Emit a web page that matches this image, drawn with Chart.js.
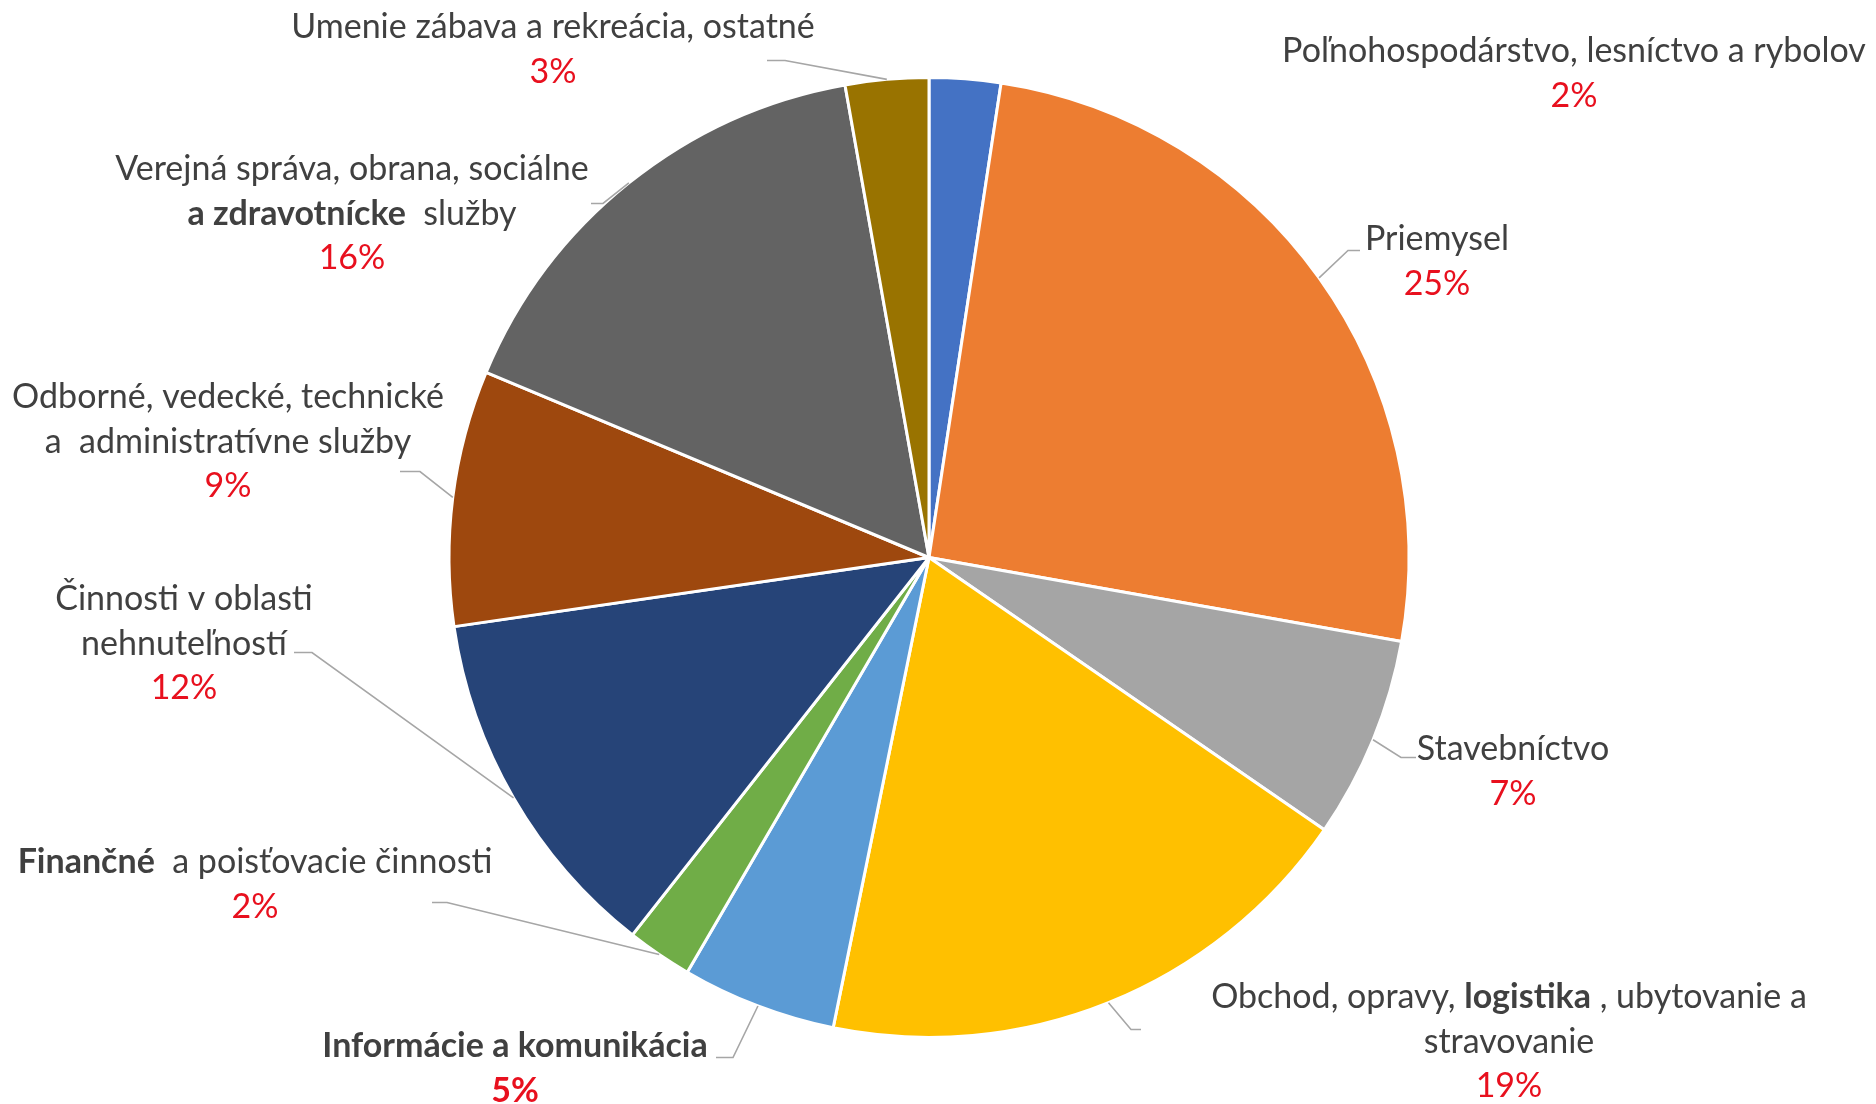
<!DOCTYPE html>
<html lang="sk">
<head>
<meta charset="utf-8">
<title>Odvetvia</title>
<script src="https://cdn.jsdelivr.net/npm/chart.js@4.4.1/dist/chart.umd.min.js"></script>
<style>
  html, body { margin: 0; padding: 0; background: #fff; }
  #wrap { width: 1876px; height: 1104px; position: relative; }
</style>
</head>
<body>
<div id="wrap"><canvas id="pie"></canvas></div>
<script>
// kategórie, od 12. hodiny v smere hodinových ručičiek
const categories = [
    'Poľnohospodárstvo, lesníctvo a rybolov',
    'Priemysel',
    'Stavebníctvo',
    'Obchod, opravy, logistika, ubytovanie a stravovanie',
    'Informácie a komunikácia',
    'Finančné a poisťovacie činnosti',
    'Činnosti v oblasti nehnuteľností',
    'Odborné, vedecké, technické a administratívne služby',
    'Verejná správa, obrana, sociálne a zdravotnícke služby',
    'Umenie zábava a rekreácia, ostatné'
];
const values = [2.4, 25.4, 6.8, 18.6, 5.2, 2.2, 12.1, 8.6, 15.9, 2.8];
const colors = ['#4472C4', '#ED7D31', '#A5A5A5', '#FFC000', '#5B9BD5',
                '#70AD47', '#264478', '#9E480E', '#636363', '#997300'];

// texty popisov po riadkoch, **tučné** časti
const labelLines = [
    ['Poľnohospodárstvo, lesníctvo a rybolov'],
    ['Priemysel'],
    ['Stavebníctvo'],
    ['Obchod, opravy, **logistika** , ubytovanie a', 'stravovanie'],
    ['**Informácie a komunikácia**'],
    ['**Finančné**  a poisťovacie činnosti'],
    ['Činnosti v oblasti', 'nehnuteľností'],
    ['Odborné, vedecké, technické', 'a  administratívne služby'],
    ['Verejná správa, obrana, sociálne', '**a zdravotnícke**  služby'],
    ['Umenie zábava a rekreácia, ostatné']
];
const boldPercent = [false, false, false, false, true, false, false, false, false, false];

// rozloženie popisov (posun od stredu koláča): stred textu x, prvý riadok y
const labelPos = [
    [645, -506], [508, -318], [584, 192], [580, 440], [-414, 489],
    [-674, 305], [-745, 42], [-701, -160], [-577, -388], [-376, -530]
];
// vodiace čiary: zlom [x, y] a koniec x (null = bez čiary)
const leaderPos = [
    null,
    [419, -307, 431],
    [472, 200, 487],
    [202, 472, 212],
    [-196, 500, -213],
    [-482, 345, -497],
    [-617, 95, -635],
    [-509, -86, -529],
    [-326, -354, -338],
    [-144, -497, -162]
];

const FONT = 'Lato, "Open Sans", sans-serif';
const FONT_SIZE = 34;
const LINE_H = 44.5;
const TEXT_COLOR = '#404040';
const PCT_COLOR = '#E8101E';
const LEADER_COLOR = '#A6A6A6';

const total = values.reduce((a, b) => a + b, 0);

// rozdelí riadok na časti normálne / tučné
const parseLine = (line) => line.split('**').map((t, i) => ({ t, bold: i % 2 === 1 })).filter(s => s.t);

const drawRichLine = (ctx, line, cx, y, color, forceBold) => {
    const segs = parseLine(line);
    let width = 0;
    segs.forEach(s => {
        ctx.font = `${(s.bold || forceBold) ? 'bold ' : ''}${FONT_SIZE}px ${FONT}`;
        s.w = ctx.measureText(s.t).width;
        width += s.w;
    });
    let x = cx - width / 2;
    ctx.fillStyle = color;
    segs.forEach(s => {
        ctx.font = `${(s.bold || forceBold) ? 'bold ' : ''}${FONT_SIZE}px ${FONT}`;
        ctx.fillText(s.t, x, y);
        x += s.w;
    });
};

const labelPlugin = {
    id: 'pieLabels',
    afterDatasetsDraw(chart) {
        const ctx = chart.ctx;
        const meta = chart.getDatasetMeta(0);
        ctx.save();
        ctx.textBaseline = 'middle';
        ctx.textAlign = 'left';
        meta.data.forEach((arc, i) => {
            const { x: cx, y: cy, startAngle, endAngle, outerRadius } = arc.getProps(['x', 'y', 'startAngle', 'endAngle', 'outerRadius'], true);
            const mid = (startAngle + endAngle) / 2;

            // vodiaca čiara
            const lp = leaderPos[i];
            if (lp) {
                ctx.beginPath();
                ctx.strokeStyle = LEADER_COLOR;
                ctx.lineWidth = 1.6;
                ctx.moveTo(cx + Math.cos(mid) * outerRadius, cy + Math.sin(mid) * outerRadius);
                ctx.lineTo(cx + lp[0], cy + lp[1]);
                ctx.lineTo(cx + lp[2], cy + lp[1]);
                ctx.stroke();
            }

            // text + percento
            const [ox, oy] = labelPos[i];
            const lines = labelLines[i];
            lines.forEach((line, k) => {
                drawRichLine(ctx, line, cx + ox, cy + oy + k * LINE_H, TEXT_COLOR, false);
            });
            const pct = Math.round(values[i] / total * 100) + '%';
            drawRichLine(ctx, pct, cx + ox, cy + oy + lines.length * LINE_H, PCT_COLOR, boldPercent[i]);
        });
        ctx.restore();
    }
};

new Chart(document.getElementById('pie'), {
    type: 'pie',
    data: {
        labels: categories,
        datasets: [{
            data: values,
            backgroundColor: colors,
            borderColor: '#ffffff',
            borderWidth: 3
        }]
    },
    options: {
        responsive: true,
        maintainAspectRatio: false,
        animation: false,
        radius: 480,
        layout: { padding: { left: 450, right: 468, top: 78, bottom: 67 } },
        plugins: {
            legend: { display: false },
            tooltip: { enabled: false }
        }
    },
    plugins: [labelPlugin]
});
</script>
</body>
</html>
